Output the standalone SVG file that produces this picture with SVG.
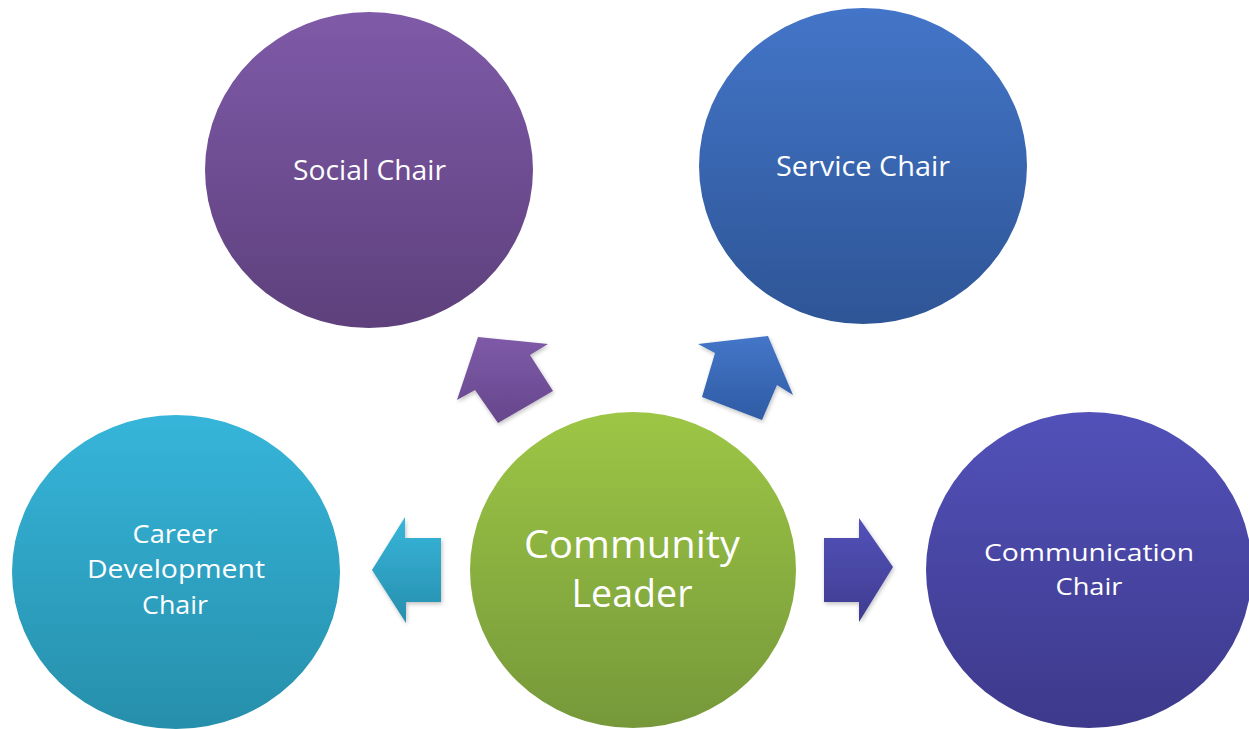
<svg xmlns="http://www.w3.org/2000/svg" width="1249" height="729" viewBox="0 0 1249 729">
<defs>
<linearGradient id="gSocial" x1="0" y1="0" x2="0" y2="1"><stop offset="0" stop-color="#7f5aa8"/><stop offset="1" stop-color="#5d407c"/></linearGradient>
<linearGradient id="gService" x1="0" y1="0" x2="0" y2="1"><stop offset="0" stop-color="#4375c8"/><stop offset="1" stop-color="#2e5596"/></linearGradient>
<linearGradient id="gCareer" x1="0" y1="0" x2="0" y2="1"><stop offset="0" stop-color="#36b5da"/><stop offset="1" stop-color="#268fab"/></linearGradient>
<linearGradient id="gLeader" x1="0" y1="0" x2="0" y2="1"><stop offset="0" stop-color="#9dc645"/><stop offset="1" stop-color="#76983a"/></linearGradient>
<linearGradient id="gComm" x1="0" y1="0" x2="0" y2="1"><stop offset="0" stop-color="#5251b9"/><stop offset="1" stop-color="#3d398b"/></linearGradient>
<linearGradient id="aSocial" x1="0" y1="0" x2="0" y2="1"><stop offset="0" stop-color="#7e5aa8"/><stop offset="1" stop-color="#66478c"/></linearGradient>
<linearGradient id="aService" x1="0" y1="0" x2="0" y2="1"><stop offset="0" stop-color="#4476c8"/><stop offset="1" stop-color="#2f5ba4"/></linearGradient>
<linearGradient id="aCareer" x1="0" y1="0" x2="0" y2="1"><stop offset="0" stop-color="#37b6da"/><stop offset="1" stop-color="#278ead"/></linearGradient>
<linearGradient id="aComm" x1="0" y1="0" x2="0" y2="1"><stop offset="0" stop-color="#5352ba"/><stop offset="1" stop-color="#3f3c8f"/></linearGradient>
<filter id="sh" x="-20%" y="-20%" width="140%" height="140%"><feGaussianBlur in="SourceAlpha" stdDeviation="2"/><feOffset dx="1" dy="2"/><feComponentTransfer><feFuncA type="linear" slope="0.25"/></feComponentTransfer><feMerge><feMergeNode/><feMergeNode in="SourceGraphic"/></feMerge></filter>
</defs>
<style>
text{font-family:"Open Sans","Liberation Sans",sans-serif;fill:#ffffff;text-anchor:middle}
.s{font-size:28px}
.m{font-size:25px}
.c{font-size:24.5px}
.l{font-size:38px}
</style>
<rect width="1249" height="729" fill="#ffffff"/>
<g id="connectors" filter="url(#sh)">
<polygon fill="url(#aSocial)" points="478,337 548,344 530,355 553,391 498,423 475,390 457,400"/>
<polygon fill="url(#aService)" points="698,344 768,336 793,395 777,385 762,420 702,397 715,353"/>
<polygon fill="url(#aCareer)" points="372,570 405,517 405,538 441,538 441,602 406,602 406,623"/>
<polygon fill="url(#aComm)" points="824,538 859,538 859,518 893,567 859,622 859,602 824,602"/>
</g>
<g id="social">
<ellipse cx="369" cy="170" rx="164" ry="158" fill="url(#gSocial)"/>
<text class="s" x="369.5" y="180" textLength="153" lengthAdjust="spacingAndGlyphs">Social Chair</text>
</g>
<g id="service">
<ellipse cx="863" cy="166" rx="164" ry="158" fill="url(#gService)"/>
<text class="s" x="863" y="176" textLength="174" lengthAdjust="spacingAndGlyphs">Service Chair</text>
</g>
<g id="career">
<ellipse cx="176" cy="572" rx="164" ry="157" fill="url(#gCareer)"/>
<text class="m" x="175" y="543" textLength="85" lengthAdjust="spacingAndGlyphs">Career</text>
<text class="m" x="176" y="578" textLength="178" lengthAdjust="spacingAndGlyphs">Development</text>
<text class="m" x="175" y="614" textLength="66" lengthAdjust="spacingAndGlyphs">Chair</text>
</g>
<g id="leader">
<ellipse cx="633" cy="570" rx="163" ry="158" fill="url(#gLeader)"/>
<text class="l" x="632" y="558" textLength="216" lengthAdjust="spacingAndGlyphs">Community</text>
<text class="l" x="632" y="607" textLength="121" lengthAdjust="spacingAndGlyphs">Leader</text>
</g>
<g id="communication">
<ellipse cx="1089" cy="570" rx="163" ry="158" fill="url(#gComm)"/>
<text class="c" x="1089" y="561" textLength="210" lengthAdjust="spacingAndGlyphs">Communication</text>
<text class="c" x="1089" y="595" textLength="67" lengthAdjust="spacingAndGlyphs">Chair</text>
</g>
</svg>
